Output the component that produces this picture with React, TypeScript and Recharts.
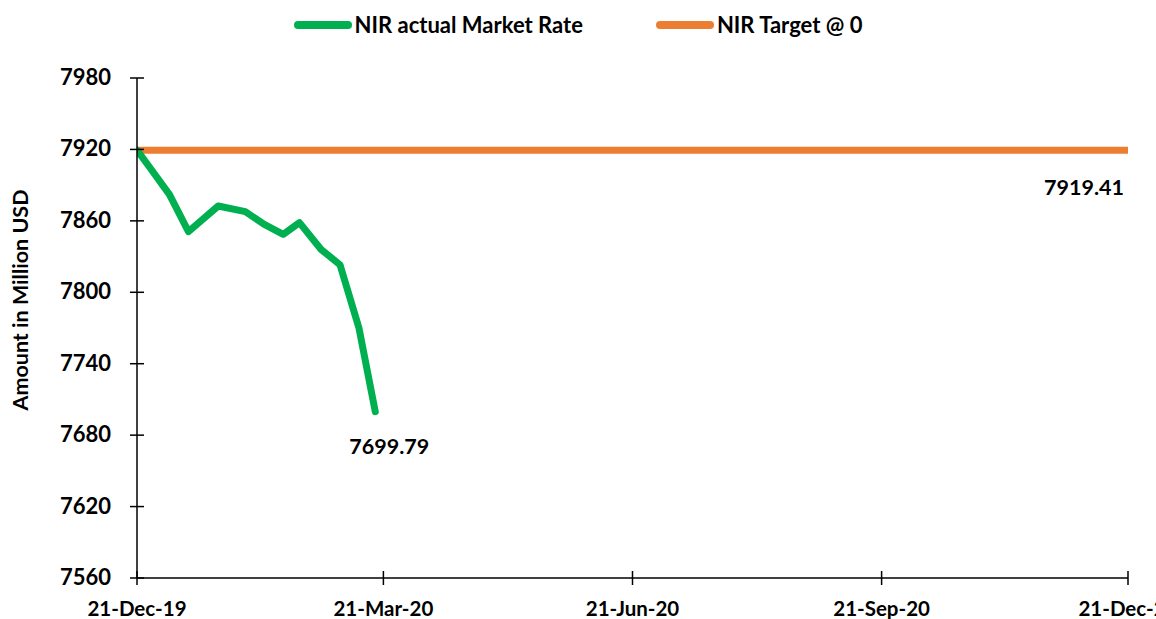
import React from "react";
import { LineChart, Line, XAxis, YAxis, Legend, LabelList } from "recharts";

const actualDates = [
  "2019-12-21", "2019-12-26", "2020-01-02", "2020-01-09", "2020-01-20",
  "2020-01-30", "2020-02-06", "2020-02-13", "2020-02-19", "2020-02-27",
  "2020-03-05", "2020-03-12", "2020-03-18",
];
const actualValues = [
  7919.4, 7904, 7882, 7851, 7872.5, 7867.7, 7857, 7848.7, 7858.5, 7836, 7823, 7769.7, 7699.79,
];
const targetDates = ["2019-12-21", "2020-12-21"];
const targetValues = [7919.41, 7919.41];

const xTickDates = ["2019-12-21", "2020-03-21", "2020-06-21", "2020-09-21", "2020-12-21"];
const xTickLabels = ["21-Dec-19", "21-Mar-20", "21-Jun-20", "21-Sep-20", "21-Dec-20"];
const yTicks = [7560, 7620, 7680, 7740, 7800, 7860, 7920, 7980];

const GREEN = "#00B050";
const ORANGE = "#ED7D31";
const FONT = "Lato, 'Open Sans', sans-serif";

const toTime = (d: string) => new Date(d + "T00:00:00Z").getTime();

const actualData = actualDates.map((d, i) => ({ t: toTime(d), v: actualValues[i] }));
const targetData = targetDates.map((d, i) => ({ t: toTime(d), v: targetValues[i] }));
const xTicks = xTickDates.map(toTime);

const YTick = (props: any) => {
  const { x, y, payload } = props;
  return (
    <g>
      <line x1={x - 7} x2={x + 7} y1={y} y2={y} stroke="#000" strokeWidth={1.5} />
      <text x={x - 26} y={y} dy={7} textAnchor="end" fontFamily={FONT} fontWeight={700} fontSize={22} fill="#000">
        {payload.value}
      </text>
    </g>
  );
};

const XTick = (props: any) => {
  const { x, y, payload } = props;
  const idx = xTicks.indexOf(payload.value);
  return (
    <g>
      <line x1={x} x2={x} y1={y - 7} y2={y + 7} stroke="#000" strokeWidth={1.5} />
      <text x={x} y={y + 38} textAnchor="middle" fontFamily={FONT} fontWeight={700} fontSize={20.5} fill="#000">
        {idx >= 0 ? xTickLabels[idx] : ""}
      </text>
    </g>
  );
};

const YTitle = (props: any) => {
  const { viewBox } = props;
  const cx = viewBox.x + 20;
  const cy = viewBox.y + viewBox.height / 2 - 28;
  return (
    <text
      x={cx}
      y={cy}
      transform={`rotate(-90 ${cx} ${cy})`}
      textAnchor="middle"
      dominantBaseline="central"
      fontFamily={FONT}
      fontWeight={700}
      fontSize={21.5}
      fill="#000"
    >
      Amount in Million USD
    </text>
  );
};

const lastLabel = (count: number, dx: number, dy: number) => (props: any) => {
  const { x, y, index, value } = props;
  if (index !== count - 1) return null;
  return (
    <text x={x + dx} y={y + dy} textAnchor="middle" fontFamily={FONT} fontWeight={700} fontSize={21.5} fill="#000">
      {Number(value).toFixed(2)}
    </text>
  );
};

const LegendContent = () => (
  <div style={{ display: "flex", justifyContent: "center", alignItems: "center", fontFamily: FONT, fontWeight: 700, fontSize: 22, color: "#000" }}>
    {[
      { name: "NIR actual Market Rate", color: GREEN },
      { name: "NIR Target @ 0", color: ORANGE },
    ].map((it, i) => (
      <div key={it.name} style={{ display: "flex", alignItems: "center", marginLeft: i ? 73 : 0 }}>
        <span style={{ display: "inline-block", width: 58, height: 8, borderRadius: 4, background: it.color, marginRight: 3 }} />
        <span>{it.name}</span>
      </div>
    ))}
  </div>
);

export default function App() {
  return (
    <div style={{ position: "absolute", left: 0, top: 0, width: 1156, height: 619, background: "#fff" }}>
      <LineChart width={1156} height={619} margin={{ top: 38, right: 28, bottom: 0, left: 0 }}>
        <Legend verticalAlign="top" height={40} wrapperStyle={{ top: 11, left: 0, width: 1156 }} content={<LegendContent />} />
        <XAxis
          dataKey="t"
          type="number"
          domain={[xTicks[0], xTicks[xTicks.length - 1]]}
          ticks={xTicks}
          interval={0}
          height={41}
          tickSize={0}
          tickMargin={0}
          tickLine={false}
          axisLine={{ stroke: "#000", strokeWidth: 1.5 }}
          tick={<XTick />}
          allowDataOverflow
        />
        <YAxis
          type="number"
          domain={[7560, 7980]}
          ticks={yTicks}
          interval={0}
          width={137}
          tickSize={0}
          tickMargin={0}
          tickLine={false}
          axisLine={{ stroke: "#000", strokeWidth: 1.5 }}
          tick={<YTick />}
          label={<YTitle />}
        />
        <Line
          data={targetData}
          dataKey="v"
          name="NIR Target @ 0"
          type="linear"
          stroke={ORANGE}
          strokeWidth={7}
          dot={false}
          activeDot={false}
          isAnimationActive={false}
        >
          <LabelList dataKey="v" content={lastLabel(targetData.length, -44, 45)} />
        </Line>
        <Line
          data={actualData}
          dataKey="v"
          name="NIR actual Market Rate"
          type="linear"
          stroke={GREEN}
          strokeWidth={7}
          strokeLinecap="round"
          strokeLinejoin="round"
          dot={false}
          activeDot={false}
          isAnimationActive={false}
        >
          <LabelList dataKey="v" content={lastLabel(actualData.length, 14, 42)} />
        </Line>
      </LineChart>
    </div>
  );
}
